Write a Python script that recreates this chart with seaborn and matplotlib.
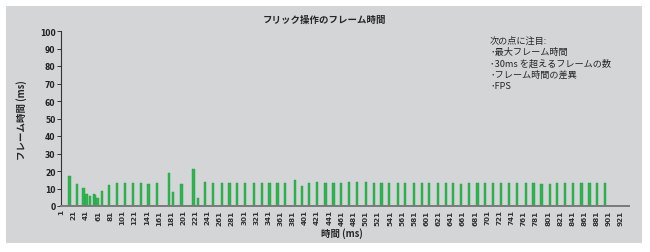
import matplotlib
matplotlib.use("Agg")
import matplotlib.pyplot as plt
from matplotlib.patches import Rectangle
import seaborn as sns
import pandas as pd

# frame start (ms) and frame time (ms)
frame_start_ms = [14, 26, 37, 42, 48, 54, 56, 60, 67, 79, 92, 105, 119, 132, 144, 158,
                  178, 184, 198, 218, 225, 237, 250, 265, 277, 290, 303, 317, 331, 343,
                  356, 369, 385, 396, 408, 421, 435, 448, 461, 474, 487, 502, 515, 527,
                  540, 554, 566, 580, 593, 605, 620, 633, 644, 658, 671, 685, 697, 711,
                  724, 737, 750, 764, 777, 790, 804, 816, 829, 842, 856, 869, 882, 895]
frame_time_ms = [17, 12.8, 10.1, 6.7, 5.7, 6.7, 6.5, 4.4, 8.6, 12.2, 13.2, 13.2, 13.2, 13, 12.7, 13,
                 19, 7.9, 12.8, 21.4, 4.7, 14, 13, 13.3, 13, 13, 13.3, 13, 13, 13,
                 13, 13, 15, 11.5, 13, 13.5, 13, 13, 13, 13.5, 13.5, 13.5, 13, 13,
                 13, 13, 13, 13, 13, 13, 13, 13, 13, 12.6, 13, 13, 13, 13,
                 13, 13, 13, 13, 13, 12.7, 12.7, 13, 13, 13, 13, 13, 13, 13]
xtick_vals = list(range(1, 922, 20))
ytick_vals = list(range(0, 101, 10))

title = "フリック操作のフレーム時間"
xlabel = "時間 (ms)"
ylabel = "フレーム時間 (ms)"
note_lines = ["次の点に注目:", "･最大フレーム時間", "･30ms を超えるフレームの数",
              "･フレーム時間の差異", "･FPS"]

df = pd.DataFrame({"t": frame_start_ms, "ft": frame_time_ms})

sns.set_theme(style="ticks")
plt.rcParams['font.family'] = ['Noto Sans CJK JP', 'DejaVu Sans']
panel = "#d4d5d7"

fig = plt.figure(figsize=(6.5, 2.53), dpi=100)
fig.patch.set_facecolor("white")
fig.add_artist(Rectangle((6/650, 1-244/253), 636/650, 237/253,
                         transform=fig.transFigure, facecolor=panel,
                         edgecolor="none", zorder=0))
ax = fig.add_axes([61/650, 1-207/253, 568/650, 175/253])
ax.set_facecolor(panel)

sns.barplot(data=df, x="t", y="ft", native_scale=True, width=1.8,
            color="#2db64f", edgecolor="#1d9e40", linewidth=0.3,
            saturation=1, errorbar=None, ax=ax)

ax.set_xlim(0, 934)
ax.set_ylim(0, 100)
ax.set_xticks(xtick_vals)
ax.set_xticklabels([str(v) for v in xtick_vals], rotation=90,
                   fontsize=5.2, fontweight="bold", family="DejaVu Sans", color="#333333")
ax.set_yticks(ytick_vals)
ax.set_yticklabels([str(v) for v in ytick_vals], fontsize=5.5,
                   fontweight="bold", family="DejaVu Sans", color="#222222")
ax.tick_params(axis="x", length=0, pad=2.5)
ax.tick_params(axis="y", length=3, width=0.7, pad=1, color="#333333")
ax.set_xlabel("")
ax.set_ylabel("")
sns.despine(ax=ax)
ax.spines["left"].set_color("#333333")
ax.spines["left"].set_linewidth(0.8)
ax.spines["bottom"].set_color("#7a7a7a")
ax.spines["bottom"].set_linewidth(1.4)

fig.text(0.5, 1-20/253, title, ha="center", va="center", fontsize=6.8, fontweight="bold")
fig.text(342/650, 1-234/253, xlabel, ha="center", va="center", fontsize=6.8, fontweight="bold")
fig.text(22/650, 1-120/253, ylabel, ha="center", va="center", rotation=90,
         fontsize=6.8, fontweight="bold")
for i, line in enumerate(note_lines):
    fig.text(490/650, 1-(41.7+11.3*i)/253, line, ha="left", va="center", fontsize=6.6)

fig.savefig("out.png", dpi=100, facecolor="white")
